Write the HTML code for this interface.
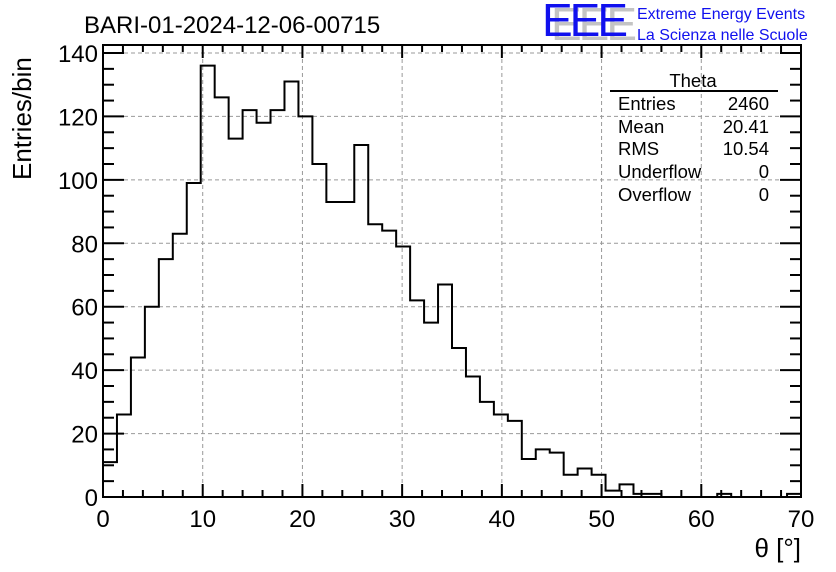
<!DOCTYPE html>
<html><head><meta charset="utf-8"><style>
html,body{margin:0;padding:0;background:#fff;}
svg{display:block;font-family:"Liberation Sans",Arial,sans-serif;}
</style></head><body>
<svg id="chart" width="836" height="572" viewBox="0 0 836 572" xmlns="http://www.w3.org/2000/svg">
<rect x="0" y="0" width="836" height="572" fill="#fff"/>
<text x="84" y="33" font-size="24" fill="#000">BARI-01-2024-12-06-00715</text>
<g>
<text x="551" y="40" font-size="46" fill="#c4c4c4" letter-spacing="-3">EEE</text>
<text x="542" y="36" font-size="46" fill="#1010ee" letter-spacing="-3">EEE</text>
<text x="637" y="19" font-size="16" fill="#1010ee">Extreme Energy Events</text>
<text x="637" y="40" font-size="16" fill="#1010ee">La Scienza nelle Scuole</text>
</g>
<g id="grid"></g>
<g id="ticks"></g>
<g id="labels"></g>
<path id="hist" fill="none" stroke="#000" stroke-width="2"/>
<rect x="103" y="45" width="698" height="452" fill="none" stroke="#000" stroke-width="2"/>
<text transform="translate(31,180) rotate(-90)" font-size="26" fill="#000">Entries/bin</text>
<text x="801" y="557" font-size="26" text-anchor="end" fill="#000">θ [°]</text>
<g font-size="18.5" fill="#000">
<text x="693" y="87" text-anchor="middle">Theta</text>
<line x1="610" y1="91" x2="778" y2="91" stroke="#000" stroke-width="2"/>
<text x="618" y="110">Entries</text><text x="769" y="110" text-anchor="end">2460</text>
<text x="618" y="133">Mean</text><text x="769" y="133" text-anchor="end">20.41</text>
<text x="618" y="155">RMS</text><text x="769" y="155" text-anchor="end">10.54</text>
<text x="618" y="178">Underflow</text><text x="769" y="178" text-anchor="end">0</text>
<text x="618" y="201">Overflow</text><text x="769" y="201" text-anchor="end">0</text>
</g>
</svg>
<script>
const binWidth = 1.4;
const counts = [11,26,44,60,75,83,99,136,126,113,122,118,122,131,120,105,93,93,111,86,84,79,62,55,67,47,38,30,26,24,12,15,14,7,9,7,2,4,1,1,0,0,0,0,1,0,0,0,0,1];
const xTicks = [0,10,20,30,40,50,60,70];
const yTicks = [0,20,40,60,80,100,120,140];
const X0=103,X1=801,Y0=497,YTOP=45;
const xMax=70, yMax=(497-45)/((497-53)/140);
function sx(v){return X0+(X1-X0)*v/xMax;}
function sy(v){return Y0-(Y0-YTOP)*v/yMax;}
const NS="http://www.w3.org/2000/svg";
function mk(tag,attrs,parent){const e=document.createElementNS(NS,tag);for(const k in attrs)e.setAttribute(k,attrs[k]);parent.appendChild(e);return e;}
const grid=document.getElementById('grid'),ticks=document.getElementById('ticks'),labels=document.getElementById('labels');
xTicks.forEach(v=>{
  const x=sx(v);
  if(v>0&&v<xMax){const g=mk('line',{x1:x,x2:x,y1:YTOP,y2:Y0,stroke:'#999','stroke-dasharray':'4,3','stroke-width':1},grid);
  
  }
  const t=mk('text',{x:x,y:527,'font-size':24,'text-anchor':'middle'},labels);
  t.textContent=v;
  
  
});
for(let v=0;v<=xMax;v+=2){
  const x=sx(v),L=(v%10===0)?13:7;
  mk('line',{x1:x,x2:x,y1:Y0,y2:Y0-L,stroke:'#000','stroke-width':2},ticks);
  mk('line',{x1:x,x2:x,y1:YTOP,y2:YTOP+L,stroke:'#000','stroke-width':2},ticks);
}
yTicks.forEach(v=>{
  const y=sy(v);
  if(v>0){const g=mk('line',{x1:X0,x2:X1,y1:y,y2:y,stroke:'#999','stroke-dasharray':'4,3','stroke-width':1},grid);
  
  }
  const t=mk('text',{x:98,y:y+9,'font-size':24,'text-anchor':'end'},labels);
  t.textContent=v;
  
  
});
for(let v=0;v<=140;v+=5){
  const y=sy(v),L=(v%20===0)?21:11;
  mk('line',{x1:X0,x2:X0+L,y1:y,y2:y,stroke:'#000','stroke-width':2},ticks);
  mk('line',{x1:X1,x2:X1-L,y1:y,y2:y,stroke:'#000','stroke-width':2},ticks);
}
let d='M'+sx(0)+','+sy(0);
counts.forEach((c,i)=>{
  d+=' L'+sx(i*binWidth)+','+sy(c)+' L'+sx((i+1)*binWidth)+','+sy(c);
});
d+=' L'+sx(counts.length*binWidth)+','+sy(0);
document.getElementById('hist').setAttribute('d',d);
</script>
</body></html>
